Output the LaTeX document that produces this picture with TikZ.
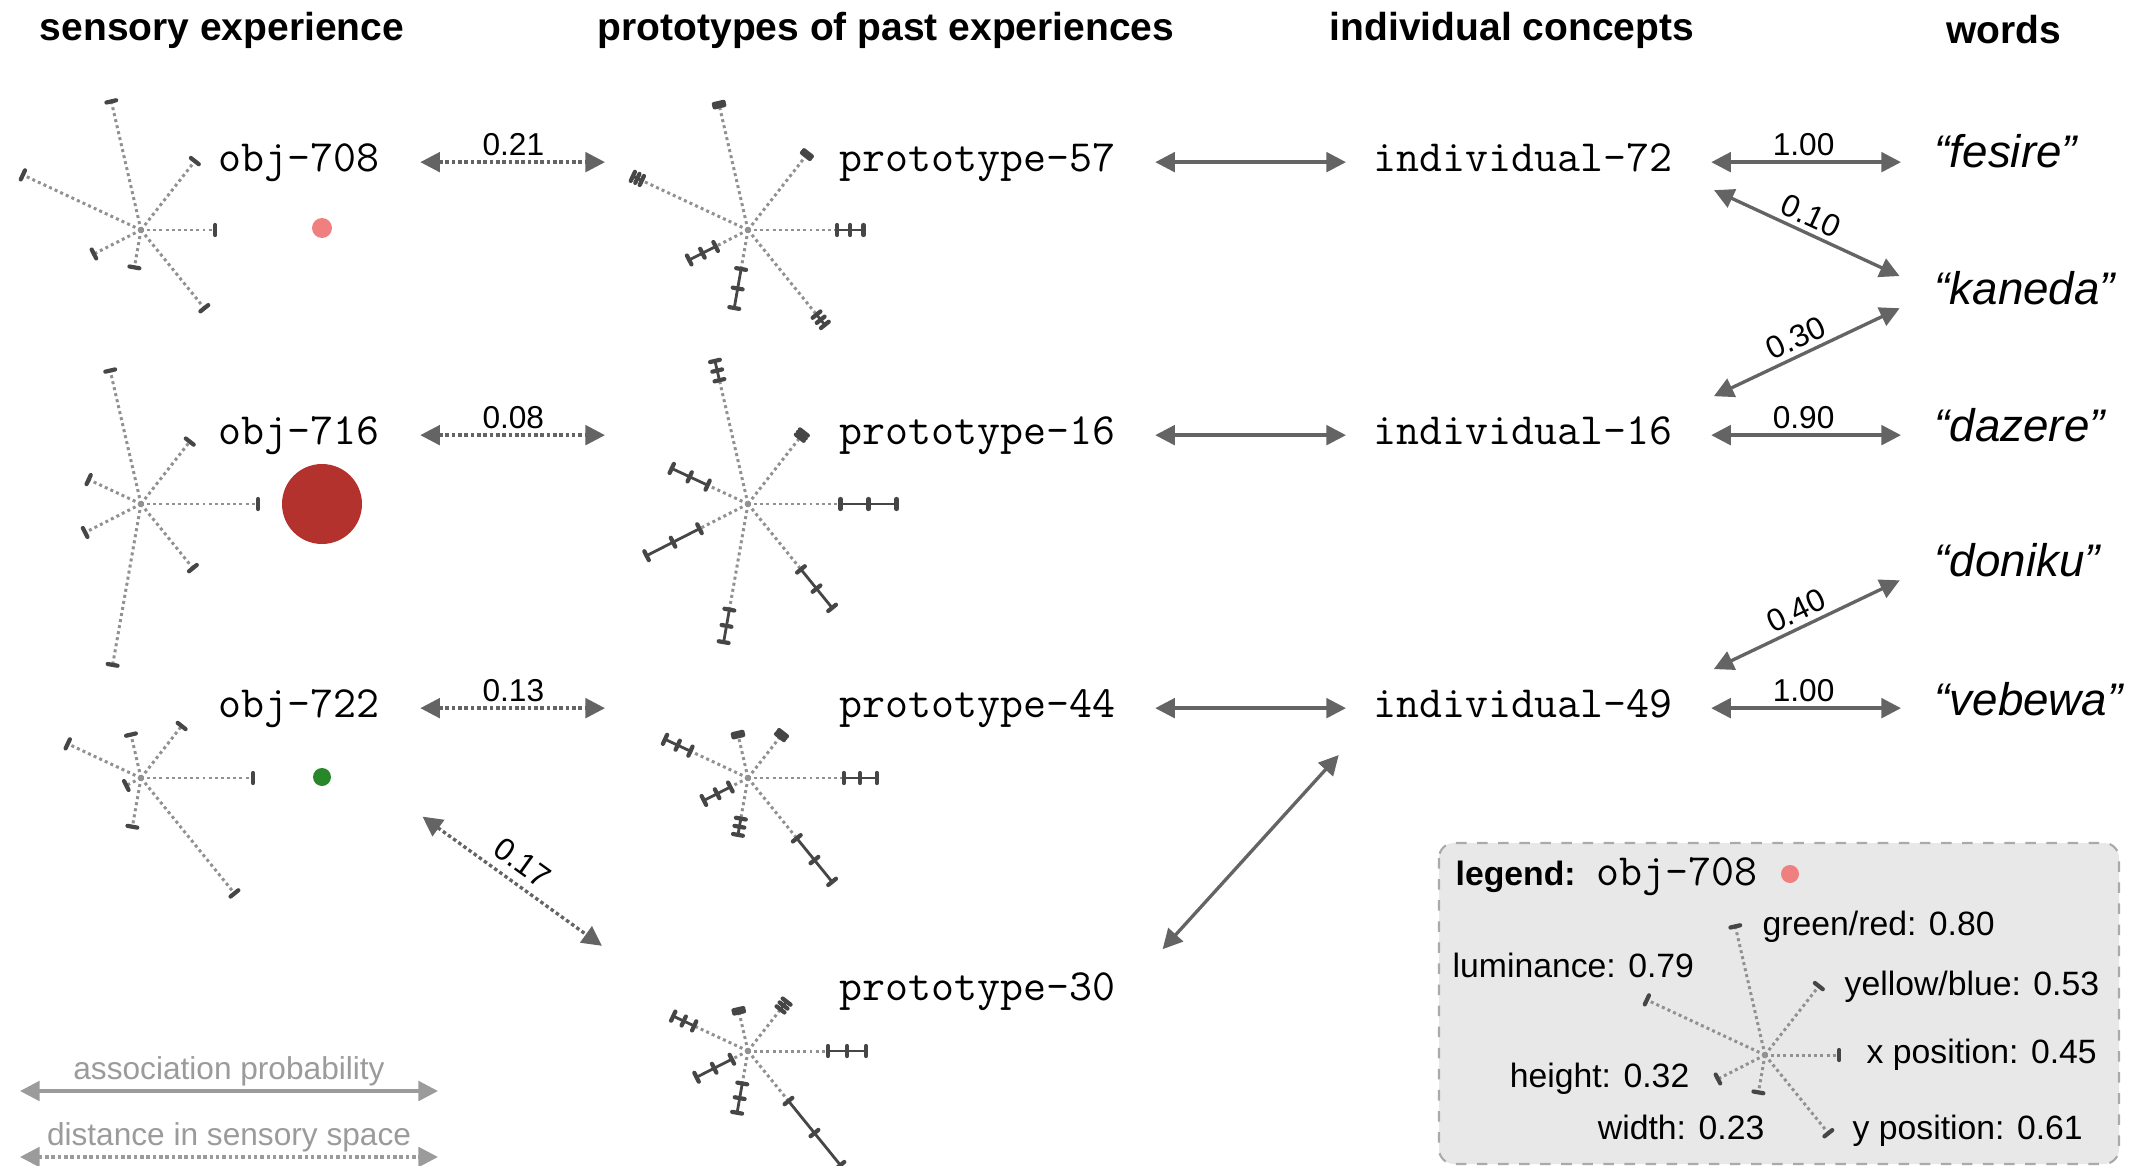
\documentclass[tikz,border=0pt]{standalone}
\usepackage{fontspec}
\setmainfont{Liberation Sans}
\usepackage{tikz}
\usetikzlibrary{arrows.meta, calc, positioning}

\definecolor{arrowgray}{RGB}{100,100,100}
\definecolor{spokegray}{RGB}{145,145,145}
\definecolor{tickgray}{RGB}{70,70,70}
\definecolor{keygray}{RGB}{155,155,155}
\definecolor{legendfill}{RGB}{232,232,232}
\definecolor{legendline}{RGB}{170,170,170}
\definecolor{dotpink}{RGB}{240,128,128}
\definecolor{dotred}{RGB}{180,50,45}
\definecolor{dotgreen}{RGB}{40,135,40}

\newcommand{\spokelen}{1.65} % spoke length for a value of 1

% sensory star: #1 centre, #2 list of angle/value
\newcommand{\sensestar}[2]{%
  \begin{scope}[shift={(#1)}]
    \foreach \a/\v in {#2} {
      \draw[spoke] (0,0) -- (\a:{\spokelen*\v});
      \draw[endtick] (\a:{\spokelen*\v}) ++(\a+90:0.05) -- ++(\a-90:0.10);
    }
    \fill[spokegray] (0,0) circle (0.03);
  \end{scope}}

% prototype star: #1 centre, #2 list of angle/mean/spread
\newcommand{\protostar}[2]{%
  \begin{scope}[shift={(#1)}]
    \foreach \a/\m/\s in {#2} {
      \draw[spoke] (0,0) -- (\a:{\spokelen*(\m-\s)});
      \draw[spread] (\a:{\spokelen*(\m-\s)}) -- (\a:{\spokelen*(\m+\s)});
      \foreach \k in {-1,0,1}
        \draw[endtick] (\a:{\spokelen*(\m+(\k)*\s)}) ++(\a+90:0.05) -- ++(\a-90:0.10);
    }
    \fill[spokegray] (0,0) circle (0.03);
  \end{scope}}

\tikzset{
  header/.style={font=\fontsize{11.1}{13}\selectfont\bfseries, inner sep=0pt},
  itemlabel/.style={font=\fontsize{12.7}{15}\selectfont\ttfamily, inner sep=0pt,
    text height=8pt, text depth=2.8pt, anchor=mid west},
  wordlabel/.style={font=\fontsize{13}{15}\selectfont\itshape, inner sep=0pt,
    text height=9.5pt, text depth=2.5pt, anchor=mid west},
  problabel/.style={font=\fontsize{9}{10}\selectfont, text=black, inner sep=1.3pt},
  legendtext/.style={font=\fontsize{9.6}{11}\selectfont, inner sep=0pt},
  keytext/.style={font=\fontsize{9}{11}\selectfont, text=keygray, inner sep=1pt},
  assoc/.style={arrowgray, line width=0.95pt,
    {Triangle[length=5.6pt,width=5.6pt]}-{Triangle[length=5.6pt,width=5.6pt]}},
  dist/.style={assoc, dash pattern=on 1pt off 0.8pt},
  spoke/.style={spokegray, line width=0.85pt, dash pattern=on 0.85pt off 0.9pt},
  endtick/.style={tickgray, line width=1.2pt, line cap=round},
  spread/.style={tickgray, line width=0.8pt},
  legendbox/.style={draw=legendline, fill=legendfill, dashed, line width=0.6pt,
    rounded corners=0.15cm},
}

\begin{document}
\begin{tikzpicture}
\useasboundingbox (0,0) rectangle (21.32,-11.66);
% legend box behind the rest
\draw[legendbox] (14.39,-8.43) rectangle (21.19,-11.64);
% column headers
\node[header] (hsense) at (2.22,-0.30) {sensory experience};
\node[header] (hproto) at (8.86,-0.30) {prototypes of past experiences};
\node[header] (hindiv) at (15.12,-0.30) {individual concepts};
\node[header] (hword) at (20.04,-0.30) {words};
% star centres
\coordinate (s708) at (1.41,-2.30);
\coordinate (s716) at (1.41,-5.04);
\coordinate (s722) at (1.41,-7.78);
\coordinate (c57) at (7.48,-2.30);
\coordinate (c16) at (7.48,-5.04);
\coordinate (c44) at (7.48,-7.78);
\coordinate (c30) at (7.48,-10.51);
\coordinate (lstar) at (17.65,-10.55);
% sensory experience
\sensestar{s708}{155/0.79, 103/0.80, 52/0.53, 0/0.45, -51/0.61, -100/0.23, -153/0.32}
\sensestar{s716}{155/0.35, 103/0.83, 52/0.48, 0/0.71, -51/0.50, -100/0.99, -153/0.38}
\sensestar{s722}{155/0.49, 103/0.27, 52/0.40, 0/0.68, -51/0.90, -100/0.30, -153/0.10}
\node[itemlabel] (obj708) at (2.18,-1.62) {obj-708};
\node[itemlabel] (obj716) at (2.18,-4.35) {obj-716};
\node[itemlabel] (obj722) at (2.18,-7.08) {obj-722};
\fill[dotpink] (3.22,-2.28) circle (0.10);
\fill[dotred] (3.22,-5.04) circle (0.40);
\fill[dotgreen] (3.22,-7.77) circle (0.09);
% prototypes
\protostar{c57}{155/0.74/0.03, 103/0.78/0.01, 52/0.58/0.01, 0/0.62/0.08, -51/0.70/0.04, -100/0.36/0.12, -153/0.31/0.09}
\protostar{c16}{155/0.39/0.12, 103/0.83/0.06, 52/0.53/0.02, 0/0.73/0.17, -51/0.66/0.15, -100/0.75/0.10, -153/0.51/0.18}
\protostar{c44}{155/0.47/0.085, 103/0.27/0.01, 52/0.33/0.015, 0/0.68/0.10, -51/0.64/0.17, -100/0.30/0.05, -153/0.21/0.09}
\protostar{c30}{155/0.43/0.07, 103/0.25/0.01, 52/0.35/0.03, 0/0.60/0.115, -51/0.64/0.25, -100/0.29/0.09, -153/0.23/0.12}
\node[itemlabel] (proto57) at (8.39,-1.62) {prototype-57};
\node[itemlabel] (proto16) at (8.39,-4.35) {prototype-16};
\node[itemlabel] (proto44) at (8.39,-7.08) {prototype-44};
\node[itemlabel] (proto30) at (8.39,-9.91) {prototype-30};
% individual concepts
\node[itemlabel] (indiv72) at (13.73,-1.62) {individual-72};
\node[itemlabel] (indiv16) at (13.73,-4.35) {individual-16};
\node[itemlabel] (indiv49) at (13.73,-7.08) {individual-49};
% words
\node[wordlabel] (fesire) at (19.34,-1.58) {“fesire”};
\node[wordlabel] (kaneda) at (19.34,-2.95) {“kaneda”};
\node[wordlabel] (dazere) at (19.34,-4.32) {“dazere”};
\node[wordlabel] (doniku) at (19.34,-5.67) {“doniku”};
\node[wordlabel] (vebewa) at (19.34,-7.06) {“vebewa”};
% distances in sensory space
\draw[dist, shorten <=0.40cm, shorten >=2.34cm] (obj708) -- node[problabel, above, pos=0.29] {0.21} (proto57);
\draw[dist, shorten <=0.40cm, shorten >=2.34cm] (obj716) -- node[problabel, above, pos=0.29] {0.08} (proto16);
\draw[dist, shorten <=0.40cm, shorten >=2.34cm] (obj722) -- node[problabel, above, pos=0.29] {0.13} (proto44);
\draw[dist, shorten <=1.52cm, shorten >=1.80cm] (obj722.south) -- node[problabel, above=1pt, sloped, pos=0.47] {0.17} (c30);
% prototypes to concepts
\draw[assoc, shorten <=0.39cm, shorten >=0.27cm] (proto57) -- (indiv72);
\draw[assoc, shorten <=0.39cm, shorten >=0.27cm] (proto16) -- (indiv16);
\draw[assoc, shorten <=0.39cm, shorten >=0.27cm] (proto44) -- (indiv49);
\draw[assoc, shorten <=0.69cm, shorten >=0.51cm] (proto30.base east) -- (indiv49.base west);
% concepts to words
\draw[assoc, shorten <=0.38cm, shorten >=0.33cm] (indiv72.east) -- node[problabel, above] {1.00} (indiv72.east -| fesire.west);
\draw[assoc, shorten <=0.45cm, shorten >=0.38cm] (indiv72.base east) -- node[problabel, above, sloped] {0.10} (kaneda.west);
\draw[assoc, shorten <=0.45cm, shorten >=0.38cm] (indiv16.north east) -- node[problabel, above, sloped] {0.30} (kaneda.west);
\draw[assoc, shorten <=0.38cm, shorten >=0.33cm] (indiv16.east) -- node[problabel, above] {0.90} (indiv16.east -| dazere.west);
\draw[assoc, shorten <=0.45cm, shorten >=0.38cm] (indiv49.north east) -- node[problabel, above, sloped] {0.40} (doniku.west);
\draw[assoc, shorten <=0.38cm, shorten >=0.33cm] (indiv49.east) -- node[problabel, above] {1.00} (indiv49.east -| vebewa.west);
% key for the two kinds of arrow
\coordinate (keyA) at (0.20,-10.91);
\coordinate (keyB) at (4.38,-10.91);
\coordinate (keyC) at (0.20,-11.57);
\coordinate (keyD) at (4.38,-11.57);
\draw[assoc, keygray] (keyA) -- node[keytext, above] {association probability} (keyB);
\draw[dist, keygray] (keyC) -- node[keytext, above] {distance in sensory space} (keyD);
% legend
\node[legendtext, anchor=mid west, font=\fontsize{9.6}{11}\selectfont\bfseries] (legtitle) at (14.55,-8.76) {legend:};
\node[itemlabel, right=0.19cm of legtitle] (legobj) {obj-708};
\fill[dotpink] (17.90,-8.74) circle (0.09);
\sensestar{lstar}{155/0.79, 103/0.80, 52/0.53, 0/0.45, -51/0.61, -100/0.23, -153/0.32}
\node[legendtext, anchor=mid west] (lgr) at (17.62,-9.26) {green/red: 0.80};
\node[legendtext, anchor=mid west] (llum) at (14.52,-9.68) {luminance: 0.79};
\node[legendtext, anchor=mid west] (lyb) at (18.44,-9.86) {yellow/blue: 0.53};
\node[legendtext, anchor=mid west] (lxpos) at (18.66,-10.54) {x position: 0.45};
\node[legendtext, anchor=mid east] (lhgt) at (16.90,-10.78) {height: 0.32};
\node[legendtext, anchor=mid east] (lwid) at (17.65,-11.30) {width: 0.23};
\node[legendtext, anchor=mid west] (lypos) at (18.52,-11.30) {y position: 0.61};
\end{tikzpicture}
\end{document}
